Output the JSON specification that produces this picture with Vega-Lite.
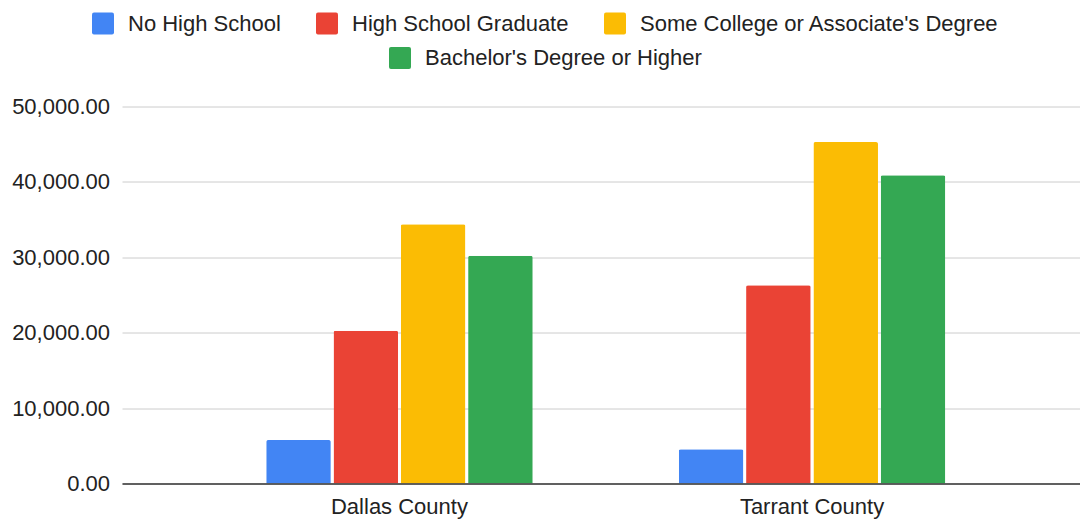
{
  "$schema": "https://vega.github.io/schema/vega-lite/v6.json",
  "width": 958,
  "height": 377,
  "autosize": {"type": "none"},
  "padding": {"left": 122, "top": 106.5, "right": 0, "bottom": 35.5},
  "background": "white",
  "config": {"view": {"stroke": null}},
  "data": {
    "values": [
      {"county": "Dallas County", "education": "No High School", "value": 5770},
      {"county": "Dallas County", "education": "High School Graduate", "value": 20265},
      {"county": "Dallas County", "education": "Some College or Associate's Degree", "value": 34380},
      {"county": "Dallas County", "education": "Bachelor's Degree or Higher", "value": 30210},
      {"county": "Tarrant County", "education": "No High School", "value": 4535},
      {"county": "Tarrant County", "education": "High School Graduate", "value": 26290},
      {"county": "Tarrant County", "education": "Some College or Associate's Degree", "value": 45290},
      {"county": "Tarrant County", "education": "Bachelor's Degree or Higher", "value": 40875}
    ]
  },
  "encoding": {
    "x": {
      "field": "county",
      "type": "nominal",
      "sort": ["Dallas County", "Tarrant County"],
      "scale": {"paddingInner": 0.354, "paddingOuter": 0.338, "align": 0.517},
      "axis": {
        "title": null,
        "labelAngle": 0,
        "domain": true,
        "domainColor": "#333333",
        "domainWidth": 1.5,
        "ticks": false,
        "grid": false,
        "labelPadding": 13,
        "labelFont": "Liberation Sans",
        "labelFontSize": 22,
        "labelColor": "#222222",
        "zindex": 1
      }
    },
    "xOffset": {
      "field": "education",
      "type": "nominal",
      "scale": {
        "domain": ["No High School", "High School Graduate", "Some College or Associate's Degree", "Bachelor's Degree or Higher"],
        "paddingInner": 0.04,
        "paddingOuter": 0
      }
    },
    "y": {
      "field": "value",
      "type": "quantitative",
      "scale": {"domain": [0, 50000], "nice": false},
      "axis": {
        "title": null,
        "format": ",.2f",
        "values": [0, 10000, 20000, 30000, 40000, 50000],
        "domain": false,
        "ticks": false,
        "labelPadding": 12.5,
        "labelFont": "Liberation Sans",
        "labelFontSize": 22,
        "labelColor": "#222222",
        "gridColor": "#cccccc",
        "gridWidth": 1
      }
    }
  },
  "layer": [
    {
      "transform": [{"filter": {"field": "education", "oneOf": ["No High School", "High School Graduate", "Some College or Associate's Degree"]}}],
      "mark": {"type": "bar", "cornerRadiusTopLeft": 2, "cornerRadiusTopRight": 2},
      "encoding": {
        "color": {
          "field": "education",
          "type": "nominal",
          "scale": {
            "domain": ["No High School", "High School Graduate", "Some College or Associate's Degree"],
            "range": ["#4285f4", "#ea4335", "#fbbc04"]
          },
          "legend": {
            "title": null,
            "orient": "none",
            "legendX": -30,
            "legendY": -94,
            "direction": "horizontal",
            "symbolType": "M-0.82,-1H0.82Q1,-1 1,-0.82V0.82Q1,1 0.82,1H-0.82Q-1,1 -1,0.82V-0.82Q-1,-1 -0.82,-1Z",
            "symbolSize": 484,
            "symbolStrokeWidth": 0,
            "symbolOpacity": 1,
            "labelFont": "Liberation Sans",
            "labelFontSize": 22,
            "labelColor": "#222222",
            "labelOffset": 14,
            "labelLimit": 600,
            "columnPadding": 35,
            "padding": 0
          }
        }
      }
    },
    {
      "transform": [{"filter": {"field": "education", "equal": "Bachelor's Degree or Higher"}}],
      "mark": {"type": "bar", "cornerRadiusTopLeft": 2, "cornerRadiusTopRight": 2},
      "encoding": {
        "color": {
          "field": "education",
          "type": "nominal",
          "scale": {
            "domain": ["Bachelor's Degree or Higher"],
            "range": ["#34a853"]
          },
          "legend": {
            "title": null,
            "orient": "none",
            "legendX": 267,
            "legendY": -59.5,
            "direction": "horizontal",
            "symbolType": "M-0.82,-1H0.82Q1,-1 1,-0.82V0.82Q1,1 0.82,1H-0.82Q-1,1 -1,0.82V-0.82Q-1,-1 -0.82,-1Z",
            "symbolSize": 484,
            "symbolStrokeWidth": 0,
            "symbolOpacity": 1,
            "labelFont": "Liberation Sans",
            "labelFontSize": 22,
            "labelColor": "#222222",
            "labelOffset": 14,
            "labelLimit": 600,
            "columnPadding": 35,
            "padding": 0
          }
        }
      }
    }
  ],
  "resolve": {"scale": {"color": "independent"}}
}
